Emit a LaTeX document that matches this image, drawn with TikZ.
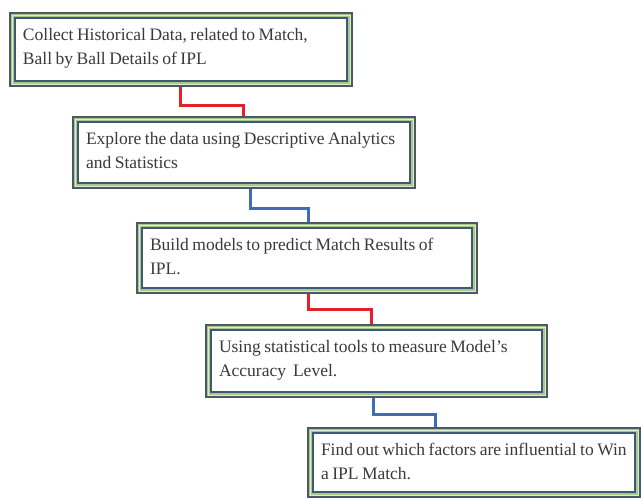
\documentclass[tikz,border=0pt]{standalone}
\usepackage{fontspec}
\setmainfont{Liberation Serif}[WordSpace=0.8]
\definecolor{bandgreen}{HTML}{A9C889}
\definecolor{outerline}{HTML}{4A5868}
\definecolor{innerline}{HTML}{3E5878}
\definecolor{midline}{HTML}{DCEACD}
\definecolor{txtcol}{HTML}{3A3A3A}
\definecolor{conred}{HTML}{E5202B}
\definecolor{conblue}{HTML}{3D6EB4}
\tikzset{
  outerbox/.style={rectangle, draw=outerline, line width=2.4pt, fill=bandgreen, inner sep=0pt},
  midrule/.style={draw=midline, line width=0.8pt},
  innerrule/.style={draw=innerline, line width=2pt, fill=white},
  boxtext/.style={anchor=north west, inner sep=0pt, align=left, text=txtcol,
    font=\fontsize{17.5}{24.5}\selectfont},
  redcon/.style={draw=conred, line width=3pt},
  bluecon/.style={draw=conblue, line width=3pt},
}
\newcommand{\flowbox}[5]{%
  \node[outerbox, minimum width=#3pt, minimum height=#4pt] (#1) at (#2) {};
  \draw[midrule] ([shift={(3.2pt,-3.2pt)}]#1.north west) rectangle ([shift={(-3.2pt,3.2pt)}]#1.south east);
  \draw[innerrule] ([shift={(6.5pt,-6.5pt)}]#1.north west) rectangle ([shift={(-6.5pt,6.5pt)}]#1.south east);
  \node[boxtext] (#1t) at ([shift={(14pt,-16pt)}]#1.north west) {#5};
}
\begin{document}
\begin{tikzpicture}[x=1pt,y=1pt]
\useasboundingbox (0,0) rectangle (641,498);
\flowbox{b1}{181,448.5}{342}{73}{Collect Historical Data, related to Match,\\Ball by Ball Details of IPL}
\flowbox{b2}{244,345.5}{342}{71}{Explore the data using Descriptive Analytics\\and Statistics}
\flowbox{b3}{307,240}{340}{70}{Build models to predict Match Results of\\IPL.}
\flowbox{b4}{376.5,137}{341}{72}{Using statistical tools to measure Model's\\Accuracy\ \ Level.}
\flowbox{b5}{474,35.5}{332}{69}{Find out which factors are influential to Win\\a IPL Match.}
\draw[redcon] ([xshift=172pt]b1.south west) -- ++(0,-18) -| ([xshift=172pt]b2.north west);
\draw[bluecon] ([xshift=179pt]b2.south west) -- ++(0,-19) -| ([xshift=173pt]b3.north west);
\draw[redcon] ([xshift=173pt]b3.south west) -- ++(0,-15) -| ([xshift=167pt]b4.north west);
\draw[bluecon] ([xshift=169pt]b4.south west) -- ++(0,-16) -| ([xshift=129pt]b5.north west);
\end{tikzpicture}
\end{document}
